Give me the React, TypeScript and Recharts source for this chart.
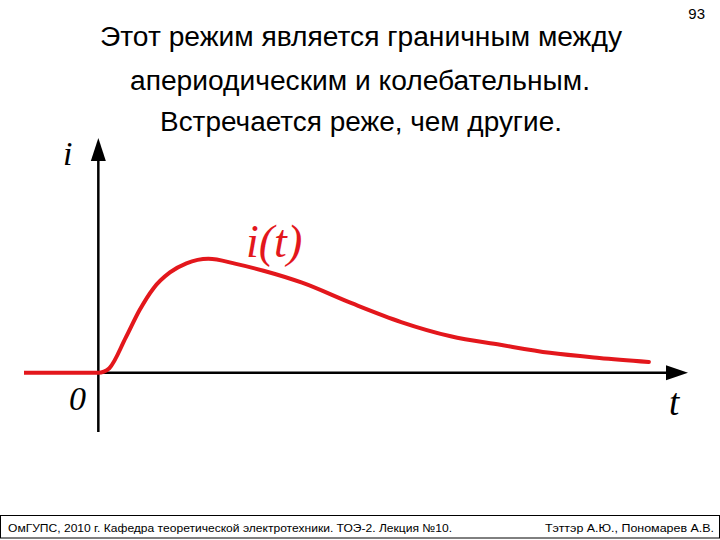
import React from 'react';
import { LineChart, Line, XAxis, YAxis, ReferenceLine, ReferenceDot } from 'recharts';

// time (arbitrary units) and current (relative to peak)
const timeValues = [-1.35, 0, 0.1, 0.2, 0.5, 0.75, 1, 1.3, 1.6, 2, 2.5, 3, 3.7, 4.6, 5.5, 6.4, 7.3, 8.2, 9.1, 10];
const currentValues = [0, 0, 0.01, 0.04, 0.31, 0.55, 0.74, 0.88, 0.96, 1.0, 0.955, 0.895, 0.79, 0.61, 0.445, 0.32, 0.245, 0.175, 0.13, 0.095];

const titleLines = [
  'Этот режим является граничным между',
  'апериодическим и колебательным.',
  'Встречается реже, чем другие.',
];
const pageNumber = '93';
const footerLeft = 'ОмГУПС, 2010 г. Кафедра теоретической электротехники. ТОЭ-2. Лекция №10.';
const footerRight = 'Тэттэр А.Ю., Пономарев А.В.';
const axisLabelY = 'i';
const axisLabelX = 't';
const originLabel = '0';
const curveLabel = 'i(t)';

const xDomain = [-1.35, 10.71];
const yDomain = [-0.52, 2.06];

const data = timeValues.map((t, i) => ({ t, i: currentValues[i] }));

const RED = '#e3171c';

const UpArrow = (p: any) => (
  <polygon points={`${p.cx},${p.cy} ${p.cx - 7.5},${p.cy + 23} ${p.cx + 7.5},${p.cy + 23}`} fill="#000" />
);
const RightArrow = (p: any) => (
  <polygon points={`${p.cx},${p.cy} ${p.cx - 22},${p.cy - 7.5} ${p.cx - 22},${p.cy + 7.5}`} fill="#000" />
);

export default function App() {
  return (
    <div style={{ position: 'absolute', left: 0, top: 0, width: 720, height: 540, background: '#fff', overflow: 'hidden' }}>
      <div style={{ position: 'absolute', left: 0, top: 0 }}>
        <LineChart width={720} height={540} data={data} margin={{ top: 138, bottom: 108, left: 24, right: 32 }}>
          <XAxis type="number" dataKey="t" domain={xDomain} allowDataOverflow hide />
          <YAxis type="number" domain={yDomain} allowDataOverflow hide />
          <ReferenceLine
            segment={[{ x: 0, y: -0.52 }, { x: 0, y: 1.95 }]}
            stroke="#000"
            strokeWidth={2.5}
            ifOverflow="visible"
          />
          <ReferenceLine
            segment={[{ x: 0, y: 0 }, { x: 10.5, y: 0 }]}
            stroke="#000"
            strokeWidth={2.5}
            ifOverflow="visible"
          />
          <ReferenceDot x={0} y={2.06} ifOverflow="visible" shape={UpArrow} />
          <ReferenceDot x={10.71} y={0} ifOverflow="visible" shape={RightArrow} />
          <Line
            type="monotone"
            dataKey="i"
            stroke={RED}
            strokeWidth={4}
            dot={false}
            activeDot={false}
            isAnimationActive={false}
            strokeLinecap="round"
          />
        </LineChart>
      </div>
      <svg width={720} height={540} style={{ position: 'absolute', left: 0, top: 0, pointerEvents: 'none' }}>
        <g fontFamily="'Liberation Sans', Arial, sans-serif" fill="#000" fontSize={27} textAnchor="middle" lengthAdjust="spacingAndGlyphs">
          <text x={361} y={46} textLength={522} lengthAdjust="spacingAndGlyphs">{titleLines[0]}</text>
          <text x={360} y={90} textLength={460} lengthAdjust="spacingAndGlyphs">{titleLines[1]}</text>
          <text x={361} y={131} textLength={402} lengthAdjust="spacingAndGlyphs">{titleLines[2]}</text>
        </g>
        <text x={705} y={19} textAnchor="end" fontFamily="'Liberation Sans', Arial, sans-serif" fontSize={15} fill="#000">{pageNumber}</text>
        <g fontFamily="'Liberation Serif', 'Times New Roman', serif" fontStyle="italic">
          <text x={63} y={165} fontSize={34} fill="#000">{axisLabelY}</text>
          <text x={69} y={410} fontSize={34} fill="#000">{originLabel}</text>
          <text x={669} y={415} fontSize={37} fill="#000">{axisLabelX}</text>
          <text x={246} y={257} fontSize={46} fill={RED}>{curveLabel}</text>
        </g>
        <rect x={0.5} y={515.5} width={719} height={22.5} fill="none" stroke="#000" strokeWidth={1} />
        <g fontFamily="'Liberation Sans', Arial, sans-serif" fontSize={11.5} fill="#000">
          <text x={8} y={532} textLength={444} lengthAdjust="spacingAndGlyphs">{footerLeft}</text>
          <text x={545} y={532} textLength={169} lengthAdjust="spacingAndGlyphs">{footerRight}</text>
        </g>
      </svg>
    </div>
  );
}
